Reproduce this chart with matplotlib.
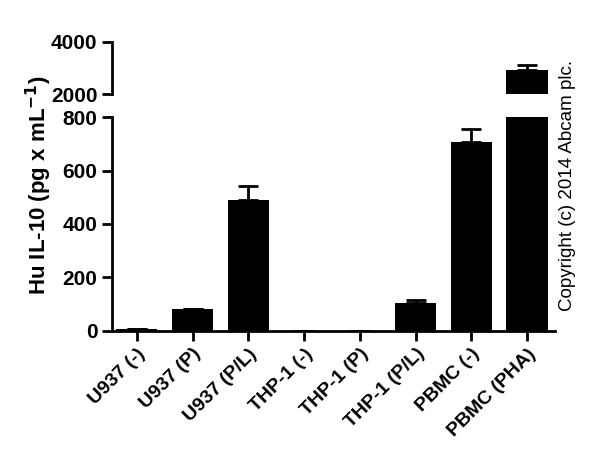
import numpy as np
import matplotlib
matplotlib.use('Agg')
import matplotlib.pyplot as plt

plt.rcParams['font.family'] = ['Liberation Sans', 'DejaVu Sans']

# Data
categories = ['U937 (-)', 'U937 (P)', 'U937 (P/L)', 'THP-1 (-)', 'THP-1 (P)',
              'THP-1 (P/L)', 'PBMC (-)', 'PBMC (PHA)']
values = [5, 83, 488, 0, 0, 103, 705, 2940]
errors = [0, 0, 53, 0, 0, 12, 52, 170]

fig = plt.figure(figsize=(6, 4.76), dpi=100)
axLow = fig.add_axes([0.187, 0.305, 0.738, 0.449])
axHigh = fig.add_axes([0.187, 0.8025, 0.738, 0.1095])

x = np.arange(len(categories))
for ax in (axLow, axHigh):
    ax.bar(x, values, width=0.74, color='black', zorder=2)
    ax.errorbar(x, values, yerr=[np.zeros(len(errors)), errors], fmt='none',
                ecolor='black', elinewidth=2, capsize=7, capthick=2, zorder=1)
    ax.set_xlim(-0.44, len(categories) - 0.5)
    for s in ['top', 'right']:
        ax.spines[s].set_visible(False)
    ax.spines['left'].set_linewidth(2)
    ax.tick_params(axis='y', width=2, length=7, labelsize=15)

axLow.set_ylim(0, 800)
axLow.set_yticks([0, 200, 400, 600, 800])
axLow.spines['bottom'].set_linewidth(2)
axLow.tick_params(axis='x', width=2, length=7)
axLow.set_xticks(x)
axLow.set_xticklabels(categories, rotation=45, ha='right', rotation_mode='anchor',
                      fontsize=14, fontweight='bold')

axHigh.set_ylim(2000, 4000)
axHigh.set_yticks([2000, 4000])
axHigh.spines['bottom'].set_visible(False)
axHigh.set_xticks([])
for ax in (axLow, axHigh):
    for lab in ax.get_yticklabels():
        lab.set_fontweight('bold')

fig.text(0.065, 0.61, 'Hu IL-10 (pg x mL$^{\\mathbf{-1}}$)', rotation=90, ha='center', va='center',
         fontsize=16, fontweight='bold')
fig.text(0.945, 0.61, 'Copyright (c) 2014 Abcam plc.', rotation=90, ha='center', va='center',
         fontsize=13.5)

fig.savefig('out.png', dpi=100)
